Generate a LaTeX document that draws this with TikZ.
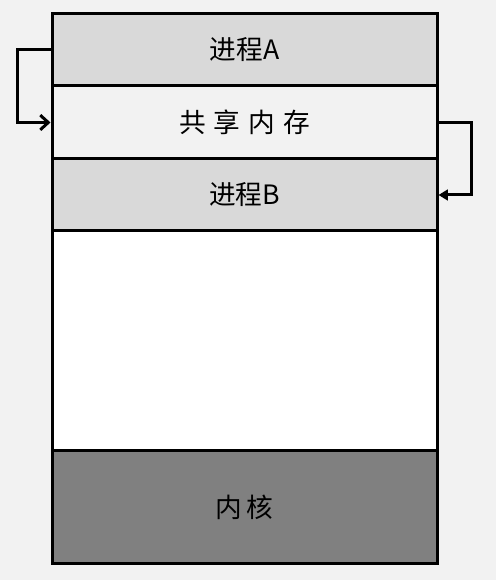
\documentclass[tikz,border=0pt]{standalone}
\usepackage{fontspec}
\newfontfamily\cjk{Noto Sans CJK SC}
\usetikzlibrary{arrows.meta}
\definecolor{fond}{HTML}{F2F2F2}
\definecolor{grisclair}{HTML}{D9D9D9}
\definecolor{grisfonce}{HTML}{808080}
\begin{document}
\begin{tikzpicture}[x=0.75pt,y=-0.75pt]
		\tikzset{bloc/.style={draw, line width=2.25pt, minimum width=288.75pt, inner sep=0pt, font=\cjk\fontsize{20}{20}\selectfont}}
		\tikzset{fleche/.style={line width=2.25pt}}
		\fill[fond] (0,0) rectangle (496,580);
		\useasboundingbox (0,0) rectangle (496,580);

		\node[bloc, fill=grisclair, minimum height=54pt] (A) at (244.5,50) {进程A};
		\node[bloc, fill=fond, minimum height=54.75pt] (S) at (244.5,122.5) {共\hspace{0.3em}享\hspace{0.3em}内\hspace{0.3em}存};
		\node[bloc, fill=grisclair, minimum height=54pt] (B) at (244.5,195) {进程B};
		\node[bloc, fill=white, minimum height=164.25pt] (L) at (244.5,340.5) {};
		\node[bloc, fill=grisfonce, minimum height=84.75pt] (K) at (244.5,507) {内\hspace{0.15em}核};

    \draw[fleche, -{Straight Barb[length=6pt,width=11pt]}] (A.west) -- ++(-33,0) |- (S.west);
    \draw[fleche, -{Triangle[length=7pt,width=8pt]}] (S.east) -- ++(33,0) |- (B.east);

		\end{tikzpicture}
\end{document}
